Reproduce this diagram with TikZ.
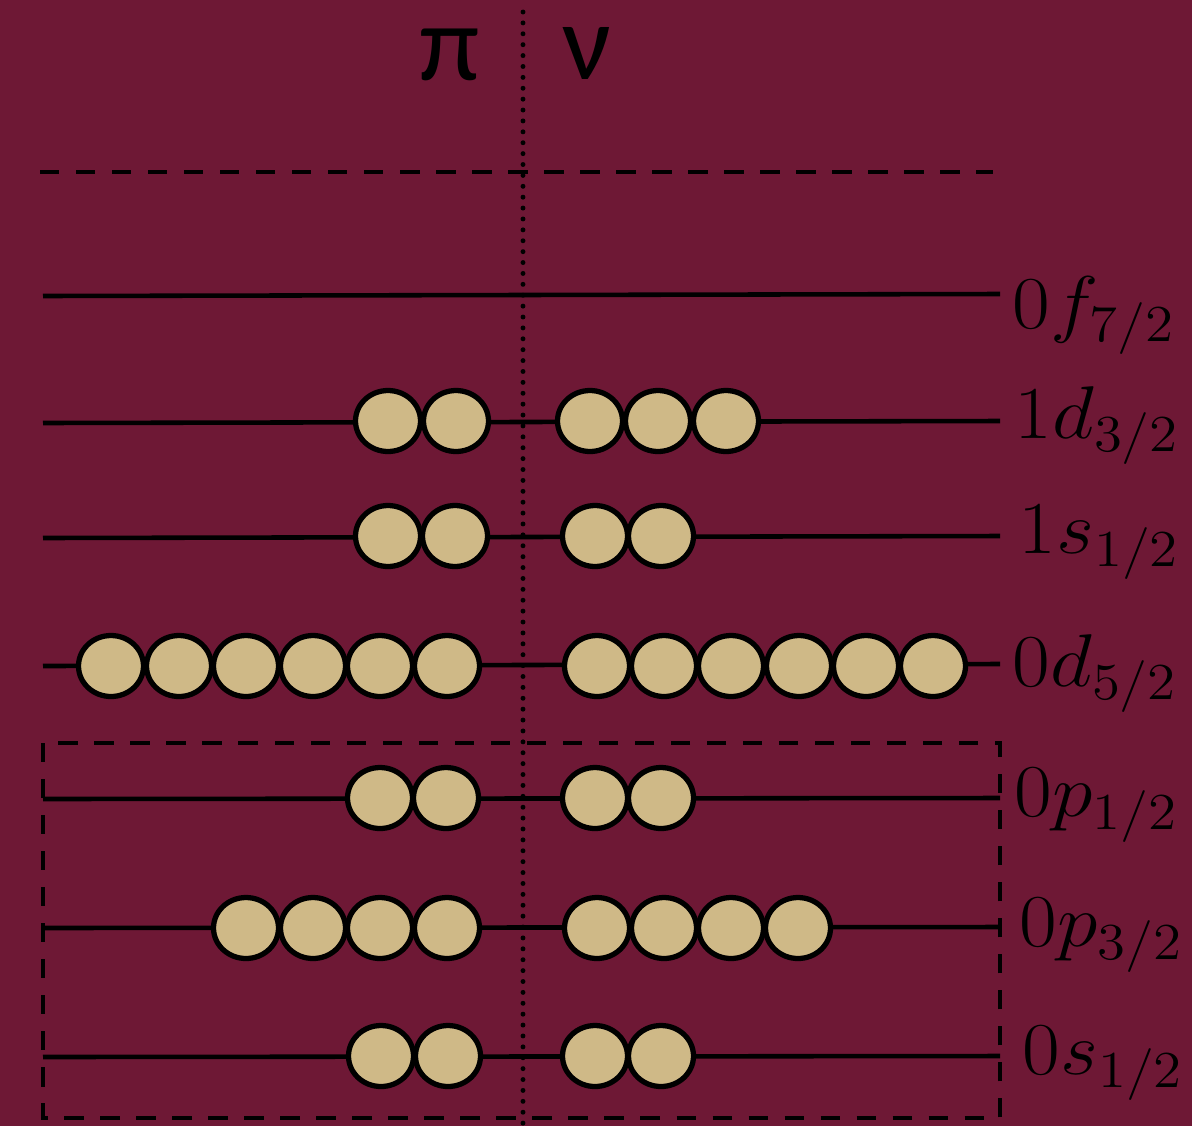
\documentclass[tikz,border=0pt]{standalone}
\usepackage{fontspec}
\newfontfamily\greekfont{Carlito}
\definecolor{maroonbg}{RGB}{110,24,53}
\definecolor{sandball}{RGB}{207,185,135}

\begin{document}
\begin{tikzpicture}[x=0.02cm,y=-0.02cm,
  level/.style={line width=2.6pt},
  ball/.style={fill=sandball, draw=black, line width=3pt},
  shelllabel/.style={anchor=base west, inner sep=0pt, font=\huge, xscale=2.25, yscale=2.05},
  nucleon/.style={anchor=base, inner sep=0pt, font=\greekfont\fontsize{62}{68}\selectfont}]
\useasboundingbox (0,0) rectangle (1192,1126);
\fill[maroonbg] (0,0) rectangle (1192,1126);
% particle type headers
\node[nucleon] (pi) at (450,80) {π};
\node[nucleon] (nu) at (587,79) {ν};
% separators
\coordinate (midtop) at (523,12);
\coordinate (midbot) at (523,1126);
\draw[line width=2.8pt, line cap=round, dash pattern=on 0pt off 6.2pt] (midtop) -- (midbot);
\coordinate (gapl) at (40,172);
\coordinate (gapr) at (993,172);
\draw[line width=2.5pt, dash pattern=on 11pt off 9.5pt] (gapl) -- (gapr);
\coordinate (corel) at (43,743);
\coordinate (corer) at (1000,1118);
\draw[line width=2.5pt, dash pattern=on 11pt off 9.5pt] (corel) rectangle (corer);
% levels
\coordinate (f72a) at (43,296);
\coordinate (f72b) at (1000,294);
\draw[level] (f72a) -- (f72b);
\node[shelllabel] (f72) at (1012,328) {$0f_{7/2}$};
\coordinate (d32a) at (43,423);
\coordinate (d32b) at (1000,421);
\draw[level] (d32a) -- (d32b);
\node[shelllabel] (d32) at (1014,438) {$1d_{3/2}$};
\coordinate (s12a) at (43,538);
\coordinate (s12b) at (1000,536);
\draw[level] (s12a) -- (s12b);
\node[shelllabel] (s12) at (1018,553) {$1s_{1/2}$};
\coordinate (d52a) at (43,666);
\coordinate (d52b) at (1000,664);
\draw[level] (d52a) -- (d52b);
\node[shelllabel] (d52) at (1012,686) {$0d_{5/2}$};
\coordinate (p12a) at (43,799);
\coordinate (p12b) at (1000,798);
\draw[level] (p12a) -- (p12b);
\node[shelllabel] (p12) at (1014,816) {$0p_{1/2}$};
\coordinate (p32a) at (43,928);
\coordinate (p32b) at (1000,927);
\draw[level] (p32a) -- (p32b);
\node[shelllabel] (p32) at (1019,946) {$0p_{3/2}$};
\coordinate (s12ca) at (43,1057);
\coordinate (s12cb) at (1000,1056);
\draw[level] (s12ca) -- (s12cb);
\node[shelllabel] (s12c) at (1022,1074) {$0s_{1/2}$};
% 1d3/2 occupation
\filldraw[ball] (388,421) ellipse (0.65cm and 0.61cm);
\filldraw[ball] (456,421) ellipse (0.65cm and 0.61cm);
\filldraw[ball] (590,421) ellipse (0.65cm and 0.61cm);
\filldraw[ball] (658,421) ellipse (0.65cm and 0.61cm);
\filldraw[ball] (726,421) ellipse (0.65cm and 0.61cm);
% 1s1/2 occupation
\filldraw[ball] (388,536) ellipse (0.65cm and 0.61cm);
\filldraw[ball] (455,536) ellipse (0.65cm and 0.61cm);
\filldraw[ball] (595,536) ellipse (0.65cm and 0.61cm);
\filldraw[ball] (661,536) ellipse (0.65cm and 0.61cm);
% 0d5/2 occupation
\filldraw[ball] (111,666) ellipse (0.65cm and 0.61cm);
\filldraw[ball] (179,666) ellipse (0.65cm and 0.61cm);
\filldraw[ball] (246,666) ellipse (0.65cm and 0.61cm);
\filldraw[ball] (313,666) ellipse (0.65cm and 0.61cm);
\filldraw[ball] (380,666) ellipse (0.65cm and 0.61cm);
\filldraw[ball] (447,666) ellipse (0.65cm and 0.61cm);
\filldraw[ball] (597,666) ellipse (0.65cm and 0.61cm);
\filldraw[ball] (664,666) ellipse (0.65cm and 0.61cm);
\filldraw[ball] (731,666) ellipse (0.65cm and 0.61cm);
\filldraw[ball] (799,666) ellipse (0.65cm and 0.61cm);
\filldraw[ball] (866,666) ellipse (0.65cm and 0.61cm);
\filldraw[ball] (933,666) ellipse (0.65cm and 0.61cm);
% 0p1/2 occupation
\filldraw[ball] (380,798) ellipse (0.65cm and 0.61cm);
\filldraw[ball] (446,798) ellipse (0.65cm and 0.61cm);
\filldraw[ball] (595,798) ellipse (0.65cm and 0.61cm);
\filldraw[ball] (661,798) ellipse (0.65cm and 0.61cm);
% 0p3/2 occupation
\filldraw[ball] (246,928) ellipse (0.65cm and 0.61cm);
\filldraw[ball] (313,928) ellipse (0.65cm and 0.61cm);
\filldraw[ball] (380,928) ellipse (0.65cm and 0.61cm);
\filldraw[ball] (447,928) ellipse (0.65cm and 0.61cm);
\filldraw[ball] (597,928) ellipse (0.65cm and 0.61cm);
\filldraw[ball] (664,928) ellipse (0.65cm and 0.61cm);
\filldraw[ball] (731,928) ellipse (0.65cm and 0.61cm);
\filldraw[ball] (798,928) ellipse (0.65cm and 0.61cm);
% 0s1/2 occupation
\filldraw[ball] (381,1056) ellipse (0.65cm and 0.61cm);
\filldraw[ball] (448,1056) ellipse (0.65cm and 0.61cm);
\filldraw[ball] (595,1056) ellipse (0.65cm and 0.61cm);
\filldraw[ball] (661,1056) ellipse (0.65cm and 0.61cm);
\end{tikzpicture}
\end{document}
